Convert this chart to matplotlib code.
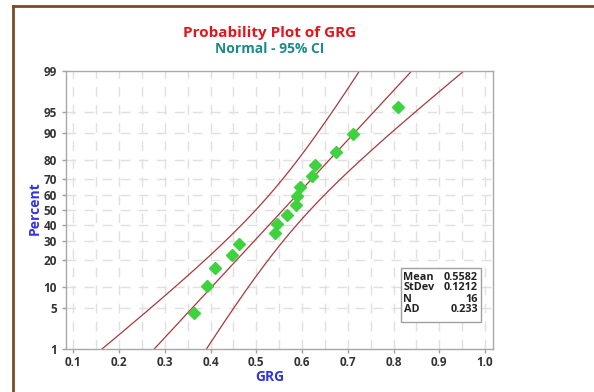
import numpy as np
import matplotlib.pyplot as plt
from matplotlib.lines import Line2D
from matplotlib.patches import Rectangle
from statistics import NormalDist

# GRG values (sorted)
grg = [0.3645, 0.393, 0.4105, 0.4463, 0.463, 0.541, 0.5447, 0.5672,
       0.5869, 0.5897, 0.5963, 0.6225, 0.629, 0.6743, 0.7115, 0.81]
mean_val = 0.5582
stdev_val = 0.1212
ad_val = 0.233
pct_ticks = [1, 5, 10, 20, 30, 40, 50, 60, 70, 80, 90, 95, 99]
x_ticks = [0.1, 0.2, 0.3, 0.4, 0.5, 0.6, 0.7, 0.8, 0.9, 1.0]

W, H = 594, 392
nd = NormalDist()


def fx(px):
    return px / W


def fy(py):
    return 1 - py / H


plt.rcParams['font.family'] = ['Open Sans', 'DejaVu Sans']
fig = plt.figure(figsize=(W / 100, H / 100), dpi=100)
ax = fig.add_axes([fx(66), fy(349.3), fx(493.3) - fx(66), fy(70.7) - fy(349.3)])

n = len(grg)
ppos = [(i + 1 - 0.3) / (n + 0.4) for i in range(n)]
zpts = [nd.inv_cdf(p) for p in ppos]

# grid
grid_kw = dict(color='#e0e0e0', lw=1, dashes=(7, 6), zorder=0)
for x in np.arange(0.1, 1.0001, 0.05):
    ax.axvline(x, **grid_kw)
for p in pct_ticks[1:-1]:
    ax.axhline(nd.inv_cdf(p / 100), **grid_kw)

# fitted line and 95% CI
zz = np.linspace(-3.2, 3.2, 300)
center = mean_val + stdev_val * zz
half = 1.96 * stdev_val * np.sqrt(1 / n + zz ** 2 / (2 * n))
line_c = '#a8393b'
ax.plot(center, zz, color=line_c, lw=0.9)
ax.plot(center - half, zz, color=line_c, lw=0.9)
ax.plot(center + half, zz, color=line_c, lw=0.9)

ax.plot(grg, zpts, 'D', color='#3fd23f', markersize=6, mec='#3fd23f', zorder=5)

ax.set_xlim(0.084, 1.018)
ax.set_ylim(nd.inv_cdf(0.01), nd.inv_cdf(0.99))
ax.set_xticks(x_ticks)
ax.set_xticklabels([f'{v:.1f}' for v in x_ticks])
ax.set_yticks([nd.inv_cdf(p / 100) for p in pct_ticks])
ax.set_yticklabels([str(p) for p in pct_ticks])
ax.tick_params(axis='both', labelsize=8.5, colors='#a0a0a0', labelcolor='#333333', length=3, width=1)
ax.tick_params(axis='x', pad=1.5)
for lab in ax.get_xticklabels() + ax.get_yticklabels():
    lab.set_fontweight('bold')
for s in ax.spines.values():
    s.set_color('#a8a8a8')
    s.set_linewidth(1)

fig.text(fx(270), fy(377), 'GRG', color='#3333e6', fontsize=10, fontweight='bold',
         ha='center', va='center')
fig.text(fx(35), fy(208), 'Percent', color='#3333e6', fontsize=10, fontweight='bold',
         ha='center', va='center', rotation=90)

fig.text(fx(270), fy(33), 'Probability Plot of GRG', color='#e3141c', fontsize=11,
         fontweight='bold', ha='center', va='center')
fig.text(fx(270), fy(49), 'Normal - 95% CI', color='#1f8a8a', fontsize=10,
         fontweight='bold', ha='center', va='center')

# stats box
fig.patches.append(Rectangle((fx(401), fy(322)), fx(481) - fx(401), fy(268) - fy(322),
                             transform=fig.transFigure, fc='white', ec='#a0a0a0', lw=1, zorder=6))
rows = [('Mean', f'{mean_val:.4f}'), ('StDev', f'{stdev_val:.4f}'), ('N', str(n)), ('AD', f'{ad_val:.3f}')]
for k, (lab, val) in enumerate(rows):
    yy = fy(277 + k * 11)
    fig.text(fx(403.5), yy, lab, fontsize=7.8, fontweight='bold', color='#222222',
             ha='left', va='center', zorder=7)
    fig.text(fx(478), yy, val, fontsize=7.8, fontweight='bold', color='#222222',
             ha='right', va='center', zorder=7)

# brown frame (left and top edges visible)
frame_c = '#7b4a26'
fig.add_artist(Line2D([fx(13), fx(13)], [fy(6), 0], transform=fig.transFigure, color=frame_c, lw=2))
fig.add_artist(Line2D([fx(13), 1], [fy(6), fy(6)], transform=fig.transFigure, color=frame_c, lw=2))

fig.savefig('out.png', dpi=100)
